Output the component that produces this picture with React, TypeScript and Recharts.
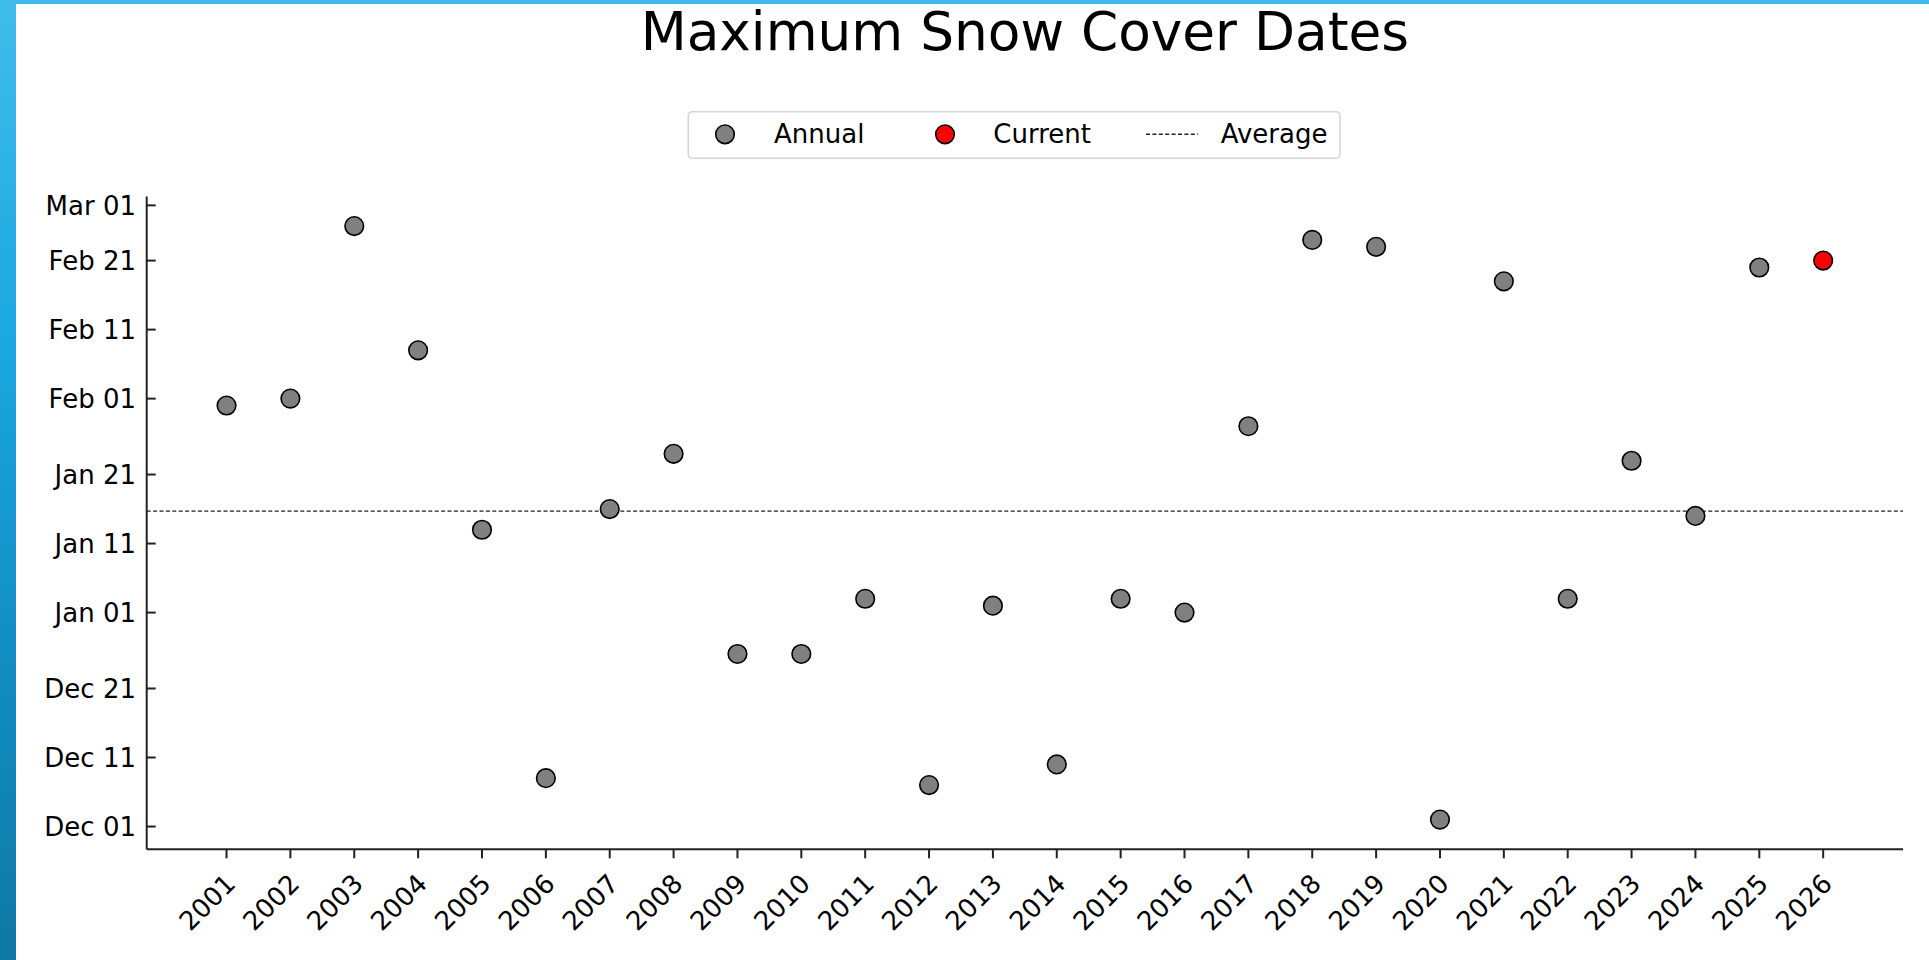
import React from 'react';
import { ScatterChart, Scatter, XAxis, YAxis, ReferenceLine } from 'recharts';

// Days counted from Dec 01 (Dec 01 = 0, Jan 01 = 31, Feb 01 = 62, Mar 01 = 90)
const annualYears = [2001, 2002, 2003, 2004, 2005, 2006, 2007, 2008, 2009, 2010, 2011, 2012, 2013, 2014, 2015, 2016, 2017, 2018, 2019, 2020, 2021, 2022, 2023, 2024, 2025];
const annualDays = [61, 62, 87, 69, 43, 7, 46, 54, 25, 25, 33, 6, 32, 9, 33, 31, 58, 85, 84, 1, 79, 33, 53, 45, 81];
const currentYears = [2026];
const currentDays = [82];
const averageDay = 45.7;

const xTicks = [2001, 2002, 2003, 2004, 2005, 2006, 2007, 2008, 2009, 2010, 2011, 2012, 2013, 2014, 2015, 2016, 2017, 2018, 2019, 2020, 2021, 2022, 2023, 2024, 2025, 2026];
const yTickValues = [0, 10, 20, 31, 41, 51, 62, 72, 82, 90];
const yTickLabels = ['Dec 01', 'Dec 11', 'Dec 21', 'Jan 01', 'Jan 11', 'Jan 21', 'Feb 01', 'Feb 11', 'Feb 21', 'Mar 01'];

const annualData = annualYears.map((y, i) => ({ year: y, day: annualDays[i] }));
const currentData = currentYears.map((y, i) => ({ year: y, day: currentDays[i] }));

const FONT = 'DejaVu Sans';
const TICK_FS = 26;
const Y_TICK_MARGIN = 10.7;

const YTick = (props: any) => {
  const { x, y, payload } = props;
  const idx = yTickValues.indexOf(payload.value);
  const label = idx >= 0 ? yTickLabels[idx] : String(payload.value);
  const axisX = x + Y_TICK_MARGIN;
  return (
    <g>
      <line x1={axisX} x2={axisX + 9} y1={y} y2={y} stroke="#222" strokeWidth={2} />
      <text x={x} y={y} dy={9.5} textAnchor="end" fontFamily={FONT} fontSize={TICK_FS} fill="#000">
        {label}
      </text>
    </g>
  );
};

const XTick = (props: any) => {
  const { x, y, payload } = props;
  const ax = x + 10.5;
  const ay = y + 27;
  return (
    <text x={ax} y={ay} transform={`rotate(-45 ${ax} ${ay})`} textAnchor="end" fontFamily={FONT} fontSize={TICK_FS} fill="#000">
      {payload.value}
    </text>
  );
};

const grayDot = (p: any) => (
  <circle cx={p.cx} cy={p.cy} r={9.3} fill="#808080" stroke="#000" strokeWidth={1.6} />
);
const redDot = (p: any) => (
  <circle cx={p.cx} cy={p.cy} r={9.3} fill="#ff0000" stroke="#000" strokeWidth={1.6} />
);

export default function App() {
  return (
    <div style={{ position: 'absolute', left: 0, top: 0, width: 1929, height: 960, background: '#fff', overflow: 'hidden' }}>
      <div style={{ position: 'absolute', left: 0, top: 0 }}>
        <ScatterChart width={1929} height={960} margin={{ top: 196.4, right: 26, bottom: 0, left: 0 }}>
          <XAxis
            type="number"
            dataKey="year"
            domain={[1999.75, 2027.25]}
            ticks={xTicks}
            interval={0}
            height={110.7}
            tickSize={9}
            tickMargin={0}
            axisLine={{ stroke: '#222', strokeWidth: 2 }}
            tickLine={{ stroke: '#222', strokeWidth: 2 }}
            tick={<XTick />}
          />
          <YAxis
            type="number"
            dataKey="day"
            domain={[-3.3, 91.3]}
            ticks={yTickValues}
            interval={0}
            width={146.7}
            tickSize={0}
            tickMargin={Y_TICK_MARGIN}
            axisLine={{ stroke: '#222', strokeWidth: 2 }}
            tickLine={false}
            tick={<YTick />}
          />
          <ReferenceLine y={averageDay} stroke="#222" strokeWidth={1.4} strokeDasharray="4 2.4" />
          <Scatter name="Annual" data={annualData} shape={grayDot} isAnimationActive={false} />
          <Scatter name="Current" data={currentData} shape={redDot} isAnimationActive={false} />
        </ScatterChart>
      </div>
      <svg width={1929} height={960} style={{ position: 'absolute', left: 0, top: 0, pointerEvents: 'none' }}>
        <text x={1024.9} y={50} textAnchor="middle" fontFamily={FONT} fontSize={53.3} fill="#000">
          Maximum Snow Cover Dates
        </text>
        <rect x={688.3} y={111.7} width={651.7} height={46.6} rx={4} ry={4} fill="#fff" stroke="#d6d6d6" strokeWidth={1.6} />
        <circle cx={725} cy={134.3} r={9.3} fill="#808080" stroke="#000" strokeWidth={1.6} />
        <text x={774} y={142.9} fontFamily={FONT} fontSize={TICK_FS} fill="#000">Annual</text>
        <circle cx={945} cy={134.3} r={9.3} fill="#ff0000" stroke="#000" strokeWidth={1.6} />
        <text x={993.3} y={142.9} fontFamily={FONT} fontSize={TICK_FS} fill="#000">Current</text>
        <line x1={1146} x2={1198} y1={134.3} y2={134.3} stroke="#222" strokeWidth={1.4} strokeDasharray="4 2.4" />
        <text x={1220.7} y={142.9} fontFamily={FONT} fontSize={TICK_FS} fill="#000">Average</text>
      </svg>
      <div style={{ position: 'absolute', left: 0, top: 0, width: 1929, height: 4, background: '#3dbbea' }} />
      <div
        style={{
          position: 'absolute',
          left: 0,
          top: 0,
          width: 16,
          height: 960,
          background: 'linear-gradient(to bottom, #40bdec 0%, #1aa8e0 35%, #1190c6 65%, #0f78a5 100%)',
        }}
      />
    </div>
  );
}
